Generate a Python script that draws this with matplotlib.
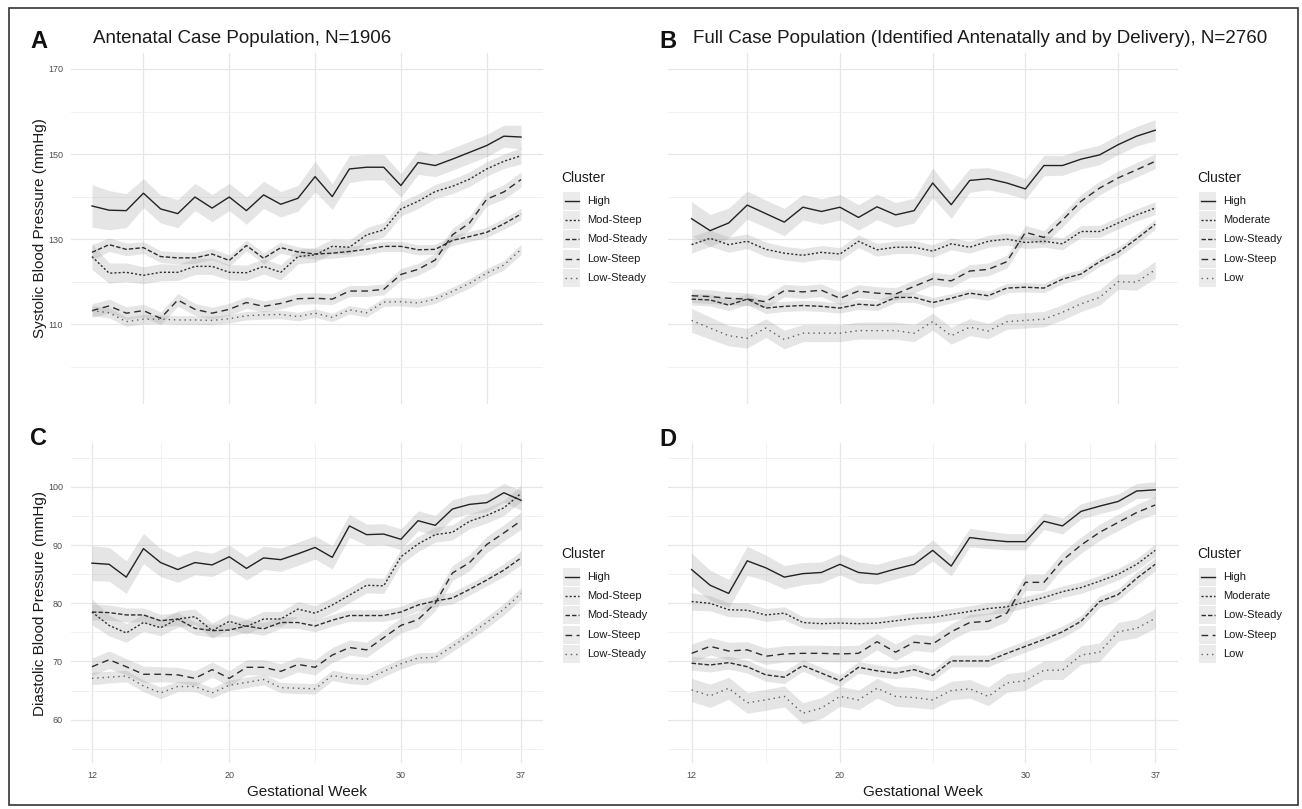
import matplotlib
matplotlib.use("Agg")
import matplotlib.pyplot as plt
from matplotlib.patches import Rectangle
from matplotlib.lines import Line2D

plt.rcParams['font.family'] = ['Liberation Sans', 'DejaVu Sans']

# ---------------- data ----------------
weeks = [12, 13, 14, 15, 16, 17, 18, 19, 20, 21, 22, 23, 24,
         25, 26, 27, 28, 29, 30, 31, 32, 33, 34, 35, 36, 37]

labels_ante = ["High", "Mod-Steep", "Mod-Steady", "Low-Steep", "Low-Steady"]
labels_full = ["High", "Moderate", "Low-Steady", "Low-Steep", "Low"]

# Panel A: systolic, antenatal
A_high = [137.8, 136.8, 136.7, 140.8, 137.1, 136.0, 139.9, 137.3, 139.9, 136.7, 140.4, 138.2, 139.6,
          144.7, 140.0, 146.5, 146.9, 146.9, 142.6, 148.0, 147.3, 148.8, 150.4, 152.0, 154.2, 154.0]
A_modsteep = [125.9, 122.0, 122.2, 121.5, 122.2, 122.2, 123.6, 123.6, 122.2, 122.1, 123.6, 122.2, 125.9,
              126.3, 128.3, 128.1, 131.0, 132.2, 137.1, 138.9, 141.2, 142.4, 144.1, 146.5, 148.3, 149.6]
A_modsteady = [126.9, 128.7, 127.6, 128.0, 125.9, 125.6, 125.6, 126.5, 125.0, 128.5, 125.5, 128.0, 127.0,
               126.5, 126.7, 127.1, 127.6, 128.3, 128.3, 127.5, 127.6, 129.7, 130.6, 131.6, 133.6, 135.9]
A_lowsteep = [113.2, 114.3, 112.6, 113.2, 111.4, 115.7, 113.5, 112.6, 113.5, 115.1, 114.2, 114.9, 116.0,
              116.1, 115.9, 117.8, 117.8, 118.2, 121.7, 122.9, 125.1, 131.0, 133.8, 139.4, 141.1, 144.0]
A_lowsteady = [113.2, 112.7, 110.6, 111.2, 111.2, 111.0, 111.0, 110.9, 111.3, 112.0, 112.2, 112.3, 111.8,
               112.6, 111.6, 113.4, 112.7, 115.2, 115.3, 115.0, 115.9, 117.7, 119.6, 122.0, 123.9, 127.6]
A_se_high = [5.0, 4.6, 4.0, 3.4, 3.3, 3.3, 3.2, 3.2, 3.2, 3.2, 3.2, 3.0, 3.0,
             3.6, 3.0, 3.2, 3.0, 3.0, 2.8, 2.8, 2.6, 2.6, 2.6, 2.6, 2.6, 2.8]
A_se_modsteep = [3.0, 2.4, 2.2, 2.0, 2.0, 1.9, 1.9, 1.9, 1.8, 1.8, 1.8, 1.8, 1.7,
                 1.7, 1.7, 1.7, 1.7, 1.7, 1.7, 1.7, 1.7, 1.7, 1.7, 1.7, 1.7, 1.9]
A_se_modsteady = [1.8, 1.6, 1.5, 1.4, 1.4, 1.4, 1.3, 1.3, 1.3, 1.3, 1.3, 1.3, 1.2,
                  1.2, 1.2, 1.2, 1.2, 1.2, 1.2, 1.2, 1.2, 1.2, 1.2, 1.2, 1.3, 1.4]
A_se_lowsteep = [1.6, 1.6, 1.5, 1.5, 1.5, 1.5, 1.4, 1.4, 1.4, 1.4, 1.3, 1.3, 1.3,
                 1.3, 1.3, 1.3, 1.3, 1.3, 1.4, 1.4, 1.5, 1.5, 1.6, 1.6, 1.7, 1.8]
A_se_lowsteady = [1.2, 1.2, 1.1, 1.1, 1.0, 1.0, 1.0, 1.0, 1.0, 1.0, 1.0, 1.0, 1.0,
                  1.0, 1.0, 1.0, 1.0, 1.0, 1.0, 1.0, 1.0, 1.0, 1.1, 1.1, 1.1, 1.2]

# Panel B: systolic, full
B_high = [134.8, 132.0, 133.8, 138.0, 136.0, 134.0, 137.5, 136.5, 137.5, 135.1, 137.6, 135.7, 136.7,
          143.2, 138.1, 143.8, 144.2, 143.2, 141.8, 147.3, 147.3, 148.8, 149.8, 152.2, 154.2, 155.6]
B_moderate = [128.7, 130.2, 128.7, 129.5, 127.6, 126.7, 126.2, 126.9, 126.5, 129.5, 127.5, 128.1, 128.1,
              127.2, 128.9, 128.1, 129.5, 130.0, 129.2, 129.5, 128.9, 131.8, 131.8, 133.8, 135.7, 137.3]
B_lowsteady = [115.9, 115.7, 114.5, 115.9, 113.8, 114.2, 114.4, 114.2, 113.8, 114.7, 114.4, 116.3, 116.3,
               115.1, 116.1, 117.3, 116.7, 118.5, 118.7, 118.5, 120.6, 121.8, 124.7, 126.9, 130.1, 133.5]
B_lowsteep = [116.7, 116.5, 116.1, 115.9, 115.3, 117.9, 117.6, 118.0, 116.1, 117.8, 117.3, 117.1, 118.9,
              120.7, 120.2, 122.5, 122.9, 124.7, 131.6, 130.4, 134.5, 138.9, 142.0, 144.4, 146.3, 148.3]
B_low = [110.9, 109.1, 107.3, 106.7, 109.1, 106.4, 107.9, 107.9, 107.9, 108.5, 108.5, 108.5, 107.9,
         110.6, 107.3, 109.3, 108.4, 110.6, 110.9, 111.2, 112.8, 114.8, 116.3, 120.0, 119.9, 122.8]
B_se_high = [4.0, 3.8, 3.5, 3.3, 3.2, 3.2, 3.0, 3.0, 3.0, 3.0, 3.0, 2.9, 2.9,
             3.5, 3.2, 2.8, 2.6, 2.5, 2.4, 2.4, 2.3, 2.3, 2.3, 2.3, 2.3, 2.5]
B_se_moderate = [2.0, 1.9, 1.8, 1.7, 1.7, 1.6, 1.6, 1.6, 1.5, 1.5, 1.5, 1.5, 1.5,
                 1.5, 1.4, 1.4, 1.4, 1.4, 1.4, 1.4, 1.4, 1.4, 1.4, 1.4, 1.4, 1.5]
B_se_lowsteady = [1.4, 1.4, 1.3, 1.3, 1.3, 1.2, 1.2, 1.2, 1.2, 1.2, 1.2, 1.2, 1.2,
                  1.2, 1.1, 1.1, 1.1, 1.1, 1.1, 1.1, 1.1, 1.1, 1.1, 1.2, 1.2, 1.2]
B_se_lowsteep = [1.6, 1.6, 1.5, 1.5, 1.5, 1.5, 1.5, 1.5, 1.5, 1.5, 1.5, 1.5, 1.5,
                 1.5, 1.5, 1.5, 1.5, 1.5, 1.6, 1.6, 1.6, 1.6, 1.6, 1.6, 1.7, 1.7]
B_se_low = [2.8, 2.6, 2.4, 2.3, 2.2, 2.2, 2.0, 2.0, 2.0, 2.0, 2.0, 2.0, 2.0,
            2.0, 2.0, 2.0, 1.8, 1.8, 1.8, 1.8, 1.8, 1.8, 1.8, 1.8, 1.9, 2.0]

# Panel C: diastolic, antenatal
C_high = [86.9, 86.7, 84.5, 89.4, 87.0, 85.8, 87.0, 86.6, 88.0, 86.0, 87.8, 87.5, 88.5,
          89.6, 87.9, 93.3, 91.8, 91.9, 91.0, 94.2, 93.4, 96.2, 97.0, 97.3, 99.0, 97.7]
C_modsteep = [78.5, 76.2, 74.9, 76.7, 75.8, 77.3, 77.7, 75.3, 76.9, 76.0, 77.3, 77.3, 79.0,
              78.3, 79.7, 81.4, 83.1, 83.0, 88.0, 90.2, 91.8, 92.2, 94.1, 95.1, 96.4, 98.9]
C_modsteady = [78.5, 78.4, 78.0, 78.0, 77.0, 77.3, 75.7, 75.3, 75.4, 76.1, 75.6, 76.7, 76.7,
               76.1, 77.1, 77.9, 77.9, 77.9, 78.5, 79.7, 80.4, 80.9, 82.4, 84.0, 85.7, 87.8]
C_lowsteep = [69.1, 70.3, 69.1, 67.8, 67.8, 67.7, 67.1, 68.6, 67.1, 69.0, 69.0, 68.3, 69.5,
              69.0, 71.1, 72.4, 72.0, 74.1, 76.2, 77.2, 80.0, 85.2, 87.0, 90.1, 92.1, 94.2]
C_lowsteady = [67.1, 67.3, 67.5, 65.8, 64.6, 65.7, 65.7, 64.6, 65.9, 66.4, 66.9, 65.5, 65.4,
               65.3, 67.6, 67.1, 66.9, 68.3, 69.6, 70.6, 70.7, 72.6, 74.6, 76.7, 79.0, 81.7]
C_se_high = [3.0, 2.9, 2.8, 2.6, 2.4, 2.2, 2.1, 2.0, 2.0, 2.0, 2.0, 2.0, 2.0,
             2.0, 2.0, 2.0, 1.8, 1.8, 1.8, 1.7, 1.7, 1.6, 1.6, 1.6, 1.6, 1.7]
C_se_modsteep = [2.2, 1.8, 1.6, 1.5, 1.4, 1.4, 1.3, 1.3, 1.3, 1.3, 1.3, 1.3, 1.3,
                 1.3, 1.3, 1.3, 1.3, 1.3, 1.3, 1.3, 1.3, 1.3, 1.3, 1.3, 1.3, 1.4]
C_se_modsteady = [1.4, 1.3, 1.2, 1.2, 1.1, 1.1, 1.1, 1.1, 1.1, 1.1, 1.1, 1.0, 1.0,
                  1.0, 1.0, 1.0, 1.0, 1.0, 1.0, 1.0, 1.0, 1.0, 1.0, 1.0, 1.1, 1.2]
C_se_lowsteep = [1.5, 1.5, 1.4, 1.4, 1.3, 1.3, 1.3, 1.3, 1.3, 1.3, 1.3, 1.3, 1.3,
                 1.3, 1.3, 1.3, 1.3, 1.3, 1.3, 1.3, 1.3, 1.3, 1.4, 1.4, 1.4, 1.5]
C_se_lowsteady = [1.1, 1.0, 1.0, 1.0, 1.0, 0.9, 0.9, 0.9, 0.9, 0.9, 0.9, 0.9, 0.9,
                  0.9, 0.9, 0.9, 0.9, 0.9, 0.9, 0.9, 0.9, 0.9, 0.9, 1.0, 1.0, 1.0]

# Panel D: diastolic, full
D_high = [85.8, 83.1, 81.7, 87.3, 86.1, 84.5, 85.1, 85.3, 86.7, 85.3, 85.0, 85.9, 86.7,
          89.1, 86.4, 91.3, 90.9, 90.6, 90.6, 94.1, 93.3, 95.8, 96.7, 97.5, 99.3, 99.5]
D_moderate = [80.3, 80.0, 78.9, 78.8, 78.0, 78.3, 76.7, 76.5, 76.6, 76.5, 76.6, 77.0, 77.4,
              77.6, 78.1, 78.6, 79.1, 79.4, 80.2, 81.0, 82.0, 82.7, 83.8, 85.0, 86.7, 89.1]
D_lowsteady = [69.7, 69.4, 69.8, 69.1, 67.7, 67.3, 69.3, 68.0, 66.7, 69.0, 68.4, 68.0, 68.6,
               67.6, 70.1, 70.1, 70.1, 71.4, 72.6, 73.8, 75.1, 76.9, 80.3, 81.5, 84.3, 86.7]
D_lowsteep = [71.4, 72.6, 71.8, 72.0, 70.9, 71.3, 71.4, 71.4, 71.3, 71.4, 73.4, 71.6, 73.3,
              73.0, 75.1, 76.7, 76.9, 78.3, 83.6, 83.6, 87.4, 90.0, 92.2, 93.9, 95.6, 96.9]
D_low = [65.1, 64.1, 65.4, 62.9, 63.4, 64.0, 61.1, 62.0, 64.0, 63.4, 65.4, 64.0, 63.8,
         63.4, 65.0, 65.3, 64.0, 66.3, 66.7, 68.5, 68.5, 71.1, 71.6, 75.1, 75.7, 77.4]
D_se_high = [2.8, 2.6, 2.4, 2.5, 2.2, 2.0, 1.9, 1.8, 1.8, 1.8, 1.7, 1.7, 1.7,
             1.8, 1.7, 1.6, 1.5, 1.4, 1.4, 1.4, 1.4, 1.3, 1.3, 1.3, 1.3, 1.4]
D_se_moderate = [1.5, 1.3, 1.2, 1.2, 1.1, 1.1, 1.0, 1.0, 1.0, 1.0, 1.0, 1.0, 1.0,
                 1.0, 1.0, 1.0, 1.0, 1.0, 1.0, 1.0, 1.0, 1.0, 1.0, 1.0, 1.0, 1.1]
D_se_lowsteady = [1.2, 1.2, 1.1, 1.1, 1.1, 1.1, 1.0, 1.0, 1.0, 1.0, 1.0, 1.0, 1.0,
                  1.0, 1.0, 1.0, 1.0, 1.0, 1.0, 1.0, 1.0, 1.0, 1.0, 1.0, 1.1, 1.1]
D_se_lowsteep = [1.6, 1.5, 1.5, 1.4, 1.4, 1.4, 1.4, 1.4, 1.4, 1.4, 1.4, 1.4, 1.4,
                 1.4, 1.4, 1.4, 1.4, 1.4, 1.4, 1.4, 1.4, 1.4, 1.4, 1.4, 1.4, 1.5]
D_se_low = [2.0, 2.0, 1.9, 1.8, 1.8, 1.8, 1.8, 1.8, 1.7, 1.7, 1.7, 1.7, 1.7,
            1.6, 1.6, 1.6, 1.6, 1.6, 1.6, 1.6, 1.6, 1.6, 1.6, 1.6, 1.6, 1.7]

# ---------------- styles ----------------
LW = 1.0
STYLES = [
    dict(color='#222222', ls='-'),
    dict(color='#2e2e2e', ls=(0, (1.5, 1.5))),
    dict(color='#2e2e2e', ls=(0, (3.2, 1.5))),
    dict(color='#2e2e2e', ls=(0, (4.8, 3.2))),
    dict(color='#5e5e5e', ls=(0, (1.0, 2.8))),
]
RIBBON = dict(color='#9a9a9a', alpha=0.25, lw=0)

W, H = 1302, 809
fig = plt.figure(figsize=(W / 100, H / 100), dpi=100)


def add_axes_px(x0, y0, x1, y1):
    return fig.add_axes([x0 / W, 1 - y1 / H, (x1 - x0) / W, (y1 - y0) / H])


def fx(x):
    return x / W


def fy(y):
    return 1 - y / H


def draw_panel(ax, series, ses, ylim, ymajor, yminor, xmajor, xminor, ylabels, xlabels):
    for s, e in zip(series, ses):
        lo = [v - d for v, d in zip(s, e)]
        hi = [v + d for v, d in zip(s, e)]
        ax.fill_between(weeks, lo, hi, zorder=1, **RIBBON)
    for s, st in zip(series, STYLES):
        ax.plot(weeks, s, color=st['color'], linestyle=st['ls'], lw=LW, zorder=3)
    ax.set_xlim(10.75, 38.25)
    ax.set_ylim(*ylim)
    ax.set_xticks(xmajor)
    ax.set_xticks(xminor, minor=True)
    ax.set_yticks(ymajor)
    ax.set_yticks(yminor, minor=True)
    ax.grid(which='major', color='#e6e6e6', lw=0.85, zorder=0)
    ax.grid(which='minor', color='#efefef', lw=0.6, zorder=0)
    ax.set_axisbelow(True)
    for sp in ax.spines.values():
        sp.set_visible(False)
    ax.tick_params(which='both', length=0, labelsize=6.5, labelcolor='#4d4d4d', pad=5.5)
    if not ylabels:
        ax.set_yticklabels([])
    if not xlabels:
        ax.set_xticklabels([])


def draw_legend(x0, ytitle, labels):
    fig.text(fx(x0 - 2), fy(ytitle), "Cluster", fontsize=10, ha='left', va='center', color='#1a1a1a')
    for i, (lab, st) in enumerate(zip(labels, STYLES)):
        yc = ytitle + 23 + i * 19.2
        fig.patches.append(Rectangle((fx(x0), fy(yc + 9)), 17 / W, 18 / H,
                                     transform=fig.transFigure, facecolor='#ebebeb',
                                     edgecolor='none'))
        fig.lines.append(Line2D([fx(x0 + 1.5), fx(x0 + 15.5)], [fy(yc), fy(yc)],
                                transform=fig.transFigure, color=st['color'],
                                linestyle=st['ls'], lw=LW))
        fig.text(fx(x0 + 24), fy(yc), lab, fontsize=8, ha='left', va='center', color='#1a1a1a')


sys_lim = (91.25, 173.75)
dia_lim = (52.5, 107.5)
sys_major = [110, 130, 150, 170]
sys_minor = [100, 120, 140, 160]
dia_major = [60, 70, 80, 90, 100]
dia_minor = [55, 65, 75, 85, 95, 105]
top_xmajor = [15, 20, 25, 30, 35]
bot_xmajor = [12, 20, 30, 37]
bot_xminor = [16, 25, 33.5]

axA = add_axes_px(70.5, 53, 542.5, 404)
draw_panel(axA, [A_high, A_modsteep, A_modsteady, A_lowsteep, A_lowsteady],
           [A_se_high, A_se_modsteep, A_se_modsteady, A_se_lowsteep, A_se_lowsteady],
           sys_lim, sys_major, sys_minor, top_xmajor, [], True, False)
axA.set_ylabel("Systolic Blood Pressure (mmHg)", fontsize=11, va='center', color='#1a1a1a')
axA.yaxis.set_label_coords((40 - 70.5) / 472, 0.5)

axB = add_axes_px(668.4, 53, 1178.4, 404)
draw_panel(axB, [B_high, B_moderate, B_lowsteady, B_lowsteep, B_low],
           [B_se_high, B_se_moderate, B_se_lowsteady, B_se_lowsteep, B_se_low],
           sys_lim, sys_major, sys_minor, top_xmajor, [], False, False)

axC = add_axes_px(70.5, 443.3, 542.5, 763.3)
draw_panel(axC, [C_high, C_modsteep, C_modsteady, C_lowsteep, C_lowsteady],
           [C_se_high, C_se_modsteep, C_se_modsteady, C_se_lowsteep, C_se_lowsteady],
           dia_lim, dia_major, dia_minor, bot_xmajor, bot_xminor, True, True)
axC.set_ylabel("Diastolic Blood Pressure (mmHg)", fontsize=11, va='center', color='#1a1a1a')
axC.yaxis.set_label_coords((40 - 70.5) / 472, 0.5)
axC.set_xlabel("Gestational Week", fontsize=11, color='#1a1a1a', labelpad=4)

axD = add_axes_px(668.4, 443.3, 1178.4, 763.3)
draw_panel(axD, [D_high, D_moderate, D_lowsteady, D_lowsteep, D_low],
           [D_se_high, D_se_moderate, D_se_lowsteady, D_se_lowsteep, D_se_low],
           dia_lim, dia_major, dia_minor, bot_xmajor, bot_xminor, False, True)
axD.set_xlabel("Gestational Week", fontsize=11, color='#1a1a1a', labelpad=4)

# legends
draw_legend(563, 178, labels_ante)
draw_legend(1199, 178, labels_full)
draw_legend(563, 554, labels_ante)
draw_legend(1199, 554, labels_full)

# titles and panel letters
fig.text(fx(93), fy(43.3), "Antenatal Case Population, N=1906", fontsize=13.5,
         ha='left', va='baseline', color='#1a1a1a')
fig.text(fx(693), fy(43.3), "Full Case Population (Identified Antenatally and by Delivery), N=2760",
         fontsize=13.5, ha='left', va='baseline', color='#1a1a1a')
for letter, x, y in [("A", 30, 48), ("B", 659, 48), ("C", 30, 445), ("D", 659, 446)]:
    fig.text(fx(x), fy(y), letter, fontsize=17, fontweight='bold', ha='left', va='baseline',
             color='#111111')

# outer frame
fig.patches.append(Rectangle((fx(9), fy(805)), (1298 - 9) / W, (805 - 8) / H,
                             transform=fig.transFigure, facecolor='none',
                             edgecolor='#333333', lw=1.2))

fig.savefig("out.png", dpi=100)
